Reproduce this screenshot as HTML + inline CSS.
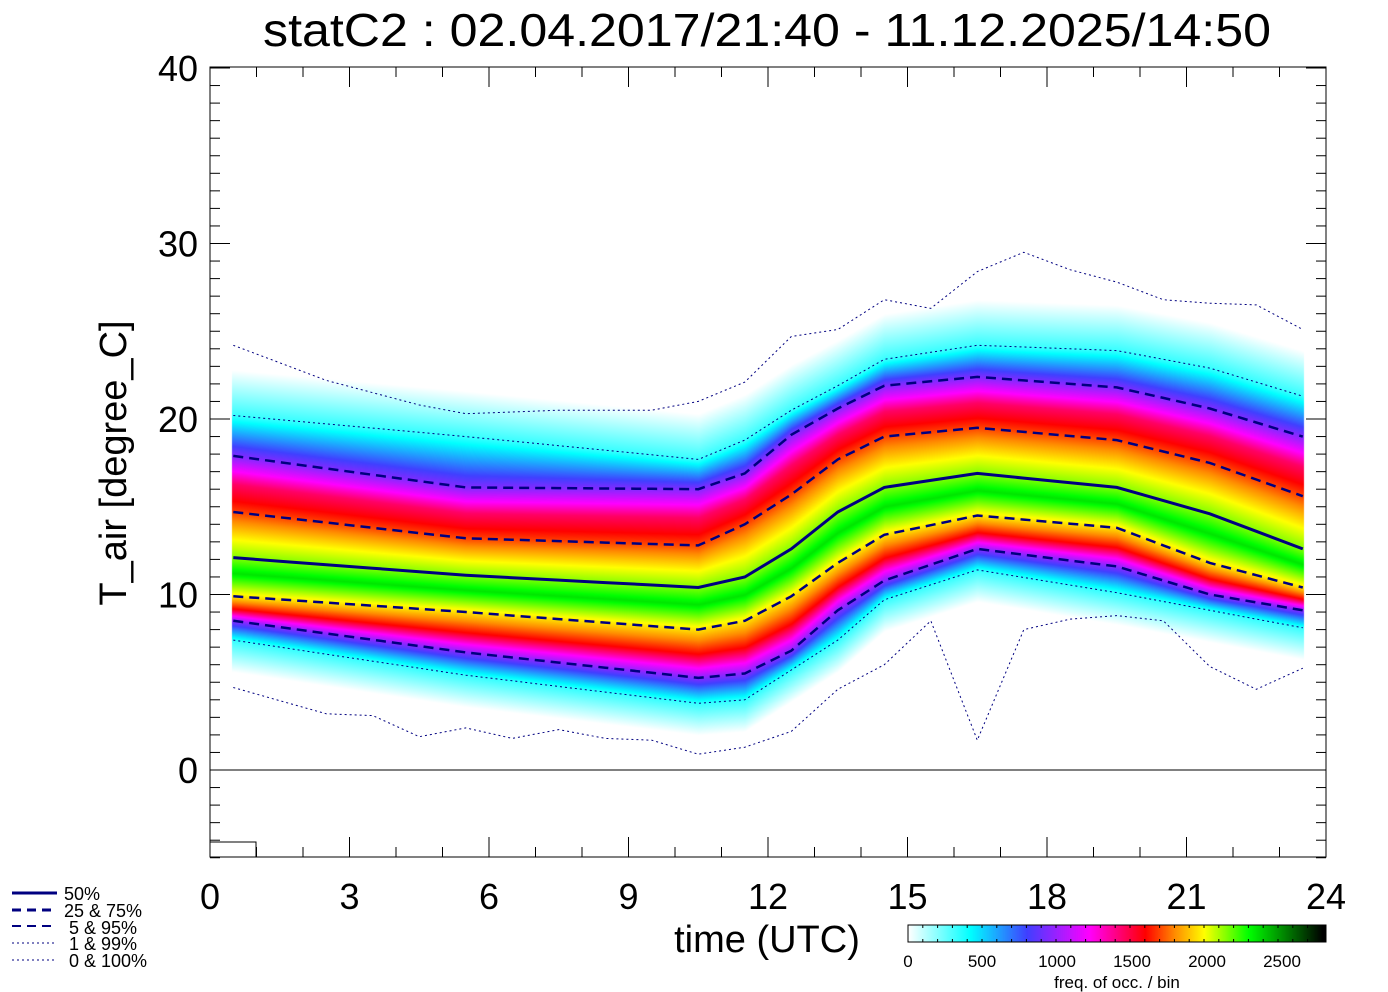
<!DOCTYPE html>
<html><head><meta charset="utf-8"><style>
html,body{margin:0;padding:0;background:#fff;width:1388px;height:992px;overflow:hidden}
#c{position:absolute;left:0;top:0}
svg{position:absolute;left:0;top:0}
text{font-family:"Liberation Sans",sans-serif;fill:#000}
</style></head><body>
<canvas id="c" width="1388" height="992"></canvas>
<svg id="s" width="1388" height="992" xmlns="http://www.w3.org/2000/svg">
<text x="767" y="46" font-size="46" text-anchor="middle" textLength="1008" lengthAdjust="spacingAndGlyphs">statC2 : 02.04.2017/21:40 - 11.12.2025/14:50</text>
<text x="767" y="952" font-size="38" text-anchor="middle">time (UTC)</text>
<text transform="translate(126,463) rotate(-90)" font-size="38" text-anchor="middle">T_air [degree_C]</text>
<g font-size="18">
<text x="64" y="900">50%</text>
<text x="64" y="917">25 &amp;  75%</text>
<text x="69" y="934">5 &amp;  95%</text>
<text x="69" y="950">1 &amp;  99%</text>
<text x="69" y="967">0 &amp; 100%</text>
</g>
<g stroke="#000080">
<line x1="12" y1="893" x2="57" y2="893" stroke-width="3"/>
<line x1="12" y1="910" x2="57" y2="910" stroke-width="3" stroke-dasharray="9,6"/>
<line x1="12" y1="926" x2="57" y2="926" stroke-width="2" stroke-dasharray="9,6"/>
<line x1="12" y1="943" x2="57" y2="943" stroke-width="1" stroke-dasharray="2,3"/>
<line x1="12" y1="960" x2="57" y2="960" stroke-width="1" stroke-dasharray="2,3"/>
</g>
<g font-size="17" text-anchor="middle">
<text x="908" y="967">0</text><text x="982" y="967">500</text><text x="1057" y="967">1000</text>
<text x="1132" y="967">1500</text><text x="1207" y="967">2000</text><text x="1282" y="967">2500</text>
<text x="1117" y="988">freq. of occ. / bin</text>
</g>
</svg>
<script>
var ctx=document.getElementById('c').getContext('2d');
var S=document.getElementById('s'),NS="http://www.w3.org/2000/svg";
function el(n,a){var e=document.createElementNS(NS,n);for(var k in a)e.setAttribute(k,a[k]);S.appendChild(e);return e;}
function X(h){return 210+h*46.5;} function Y(t){return 770-t*17.55;}
var kh=[0.5,5.5,10.5,11.5,12.5,13.5,14.5,16.5,19.5,21.5,23.5];
var P={
p1:[7.4,5.4,3.8,4.0,5.7,7.4,9.7,11.4,10.1,9.1,8.1],
p5:[8.5,6.7,5.25,5.5,6.8,9.1,10.8,12.6,11.6,10.0,9.1],
p25:[9.9,9.0,8.0,8.5,9.9,11.8,13.4,14.5,13.8,11.8,10.4],
p50:[12.1,11.1,10.4,11.0,12.6,14.7,16.1,16.9,16.1,14.6,12.6],
p75:[14.7,13.2,12.8,14.0,15.7,17.7,19.0,19.5,18.8,17.5,15.6],
p95:[17.9,16.1,16.0,16.9,19.1,20.6,21.9,22.4,21.8,20.6,19.0],
p99:[20.2,19.0,17.7,18.8,20.5,21.9,23.4,24.2,23.9,22.9,21.3]};
var p0h=[0.5,2.5,3.5,4.5,5.5,6.5,7.5,8.5,9.5,10.5,11.5,12.5,13.5,14.5,15.5,16.5,17.5,18.5,19.5,20.5,21.5,22.5,23.5];
var p0v=[4.7,3.2,3.1,1.9,2.4,1.8,2.3,1.8,1.7,0.9,1.3,2.2,4.6,6.0,8.5,1.7,8.0,8.6,8.8,8.5,5.9,4.6,5.8];
var p100h=[0.5,2.5,4.5,5.5,7.5,9.5,10.5,11.5,12.5,13.5,14.5,15.5,16.5,17.5,18.5,19.5,20.5,21.5,22.5,23.5];
var p100v=[24.2,22.2,20.8,20.3,20.5,20.5,21.0,22.1,24.7,25.1,26.8,26.3,28.4,29.5,28.5,27.8,26.8,26.6,26.5,25.1];
function interp(hs,vs,h){if(h<=hs[0])return vs[0];for(var i=1;i<hs.length;i++)if(h<=hs[i]){var f=(h-hs[i-1])/(hs[i]-hs[i-1]);return vs[i-1]+f*(vs[i]-vs[i-1]);}return vs[vs.length-1];}
function pc(k,h){if(k=='p0')return interp(p0h,p0v,h);if(k=='p100')return interp(p100h,p100v,h);return interp(kh,P[k],h);}
var cm=[[0,255,255,255],[420,0,255,255],[800,64,64,255],[1220,255,0,255],[1600,255,0,0],[1800,255,140,0],[2000,255,255,0],[2300,0,255,0],[2800,0,0,0]];
function col(v){if(v<=0)return[255,255,255];for(var i=1;i<cm.length;i++)if(v<=cm[i][0]){var a=cm[i-1],b=cm[i],f=(v-a[0])/(b[0]-a[0]);return[a[1]+f*(b[1]-a[1]),a[2]+f*(b[2]-a[2]),a[3]+f*(b[3]-a[3])];}return[0,0,0];}
for(var x=908;x<1326;x++){var c=col((x-908)/148*1000);ctx.fillStyle='rgb('+(c[0]|0)+','+(c[1]|0)+','+(c[2]|0)+')';ctx.fillRect(x,925,1,17);}
el('rect',{x:908,y:925,width:418,height:17,fill:'none',stroke:'#000','stroke-width':1});
for(var v=0;v<=2800;v+=100){var xx=908+v*0.148;el('line',{x1:xx,y1:925,x2:xx,y2:928,stroke:'#000'});el('line',{x1:xx,y1:942,x2:xx,y2:939,stroke:'#000'});}
var qs=[0,0.01,0.05,0.15,0.25,0.4,0.5,0.6,0.75,0.85,0.95,0.99,1];
var vs=[0,330,950,1600,1950,2350,2150,2000,1700,1450,950,330,0];
var x0=232,x1=1303;
var img=ctx.getImageData(0,0,1388,992),d=img.data;
for(var x=x0;x<=x1;x++){var h=(x-210)/46.5;
 var tq=[[pc('p1',h)-1.8,0],[pc('p1',h),0.01],[pc('p5',h),0.05],[(pc('p5',h)+pc('p25',h))/2,0.15],[pc('p25',h),0.25],[(pc('p25',h)*0.4+pc('p50',h)*0.6),0.4],[pc('p50',h),0.5],[(pc('p50',h)*0.6+pc('p75',h)*0.4),0.6],[pc('p75',h),0.75],[(pc('p75',h)+pc('p95',h))/2,0.85],[pc('p95',h),0.95],[pc('p99',h),0.99],[pc('p99',h)+2.6,1]];
 for(var y=68;y<857;y++){var t=(770-y)/17.55,q=-1;
  for(var i=1;i<tq.length;i++){if(t>=tq[i-1][0]&&t<=tq[i][0]){q=tq[i-1][1]+(t-tq[i-1][0])/(tq[i][0]-tq[i-1][0])*(tq[i][1]-tq[i-1][1]);break;}}
  if(q<0)continue;var v=0;for(var j=1;j<qs.length;j++)if(q<=qs[j]){v=vs[j-1]+(q-qs[j-1])/(qs[j]-qs[j-1])*(vs[j]-vs[j-1]);break;}
  var c=col(v),o=(y*1388+x)*4;d[o]=c[0];d[o+1]=c[1];d[o+2]=c[2];d[o+3]=255;}}
ctx.putImageData(img,0,0);
function line(k,dash,w){var pts=[];for(var h=0.5;h<=23.5;h+=1)pts.push(X(h).toFixed(1)+','+Y(pc(k,h)).toFixed(1));el('polyline',{points:pts.join(' '),fill:'none',stroke:'#000080','stroke-width':w,'stroke-dasharray':dash});}
line('p0','2,3',1);line('p100','2,3',1);line('p1','2,3',1);line('p99','2,3',1);
line('p5','10,6',2.5);line('p95','10,6',2.5);line('p25','10,6',2.5);line('p75','10,6',2.5);line('p50','none',3);
el('line',{x1:210,y1:770,x2:1326,y2:770,stroke:'#000','stroke-width':1});
el('rect',{x:210,y:842,width:46,height:15,fill:'none',stroke:'#000'});
el('rect',{x:210,y:67,width:1116,height:790,fill:'none',stroke:'#000','stroke-width':1});
for(var t=-5;t<=40;t++){var y=Y(t),L=(t%10==0)?20:10;el('line',{x1:210,y1:y,x2:210+L,y2:y,stroke:'#000'});el('line',{x1:1326,y1:y,x2:1326-L,y2:y,stroke:'#000'});
 if(t%10==0&&t>=0){var tx=el('text',{x:198,y:y+13,'font-size':'36','text-anchor':'end'});tx.textContent=t;}}
for(var h=0;h<=24;h++){var x=X(h),L=(h%3==0)?20:10;el('line',{x1:x,y1:857,x2:x,y2:857-L,stroke:'#000'});el('line',{x1:x,y1:67,x2:x,y2:67+L,stroke:'#000'});
 if(h%3==0){var tx=el('text',{x:x,y:909,'font-size':'36','text-anchor':'middle'});tx.textContent=h;}}
</script>
</body></html>
